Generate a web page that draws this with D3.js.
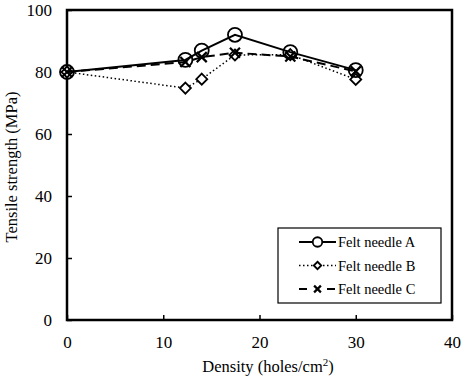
<!DOCTYPE html>
<html>
<head>
<meta charset="utf-8">
<script src="https://cdn.jsdelivr.net/npm/d3@7"></script>
<style>
  body { margin: 0; background: #fff; }
</style>
</head>
<body>
<div id="chart"></div>
<script>
// Data
const density = [0, 12.3, 14, 17.45, 23.2, 30];
const needleA = [80, 83.9, 86.9, 92, 86.4, 80.6];
const needleB = [80, 74.8, 77.7, 85.5, 85.6, 77.6];
const needleC = [80, 83.2, 84.8, 86.2, 85, 80.2];
const seriesNames = ["Felt needle A", "Felt needle B", "Felt needle C"];
const xTicks = [0, 10, 20, 30, 40];
const yTicks = [0, 20, 40, 60, 80, 100];

const FONT = "'Liberation Serif', 'Times New Roman', serif";
const W = 463, H = 378;
const margin = { top: 10, right: 11, bottom: 58, left: 67 };
const width = W - margin.left - margin.right;
const height = H - margin.top - margin.bottom;

const svg = d3.select("#chart").append("svg")
    .attr("width", W)
    .attr("height", H)
    .style("font-family", FONT);

const chart = svg.append("g")
    .attr("transform", `translate(${margin.left},${margin.top})`);

const x = d3.scaleLinear().domain([0, 40]).range([0, width]);
const y = d3.scaleLinear().domain([0, 100]).range([height, 0]);

// Axes with inward ticks
const xAxis = chart.append("g")
    .attr("transform", `translate(0,${height})`)
    .call(d3.axisBottom(x).tickValues(xTicks).tickSize(-5).tickPadding(16).tickSizeOuter(0));
const yAxis = chart.append("g")
    .call(d3.axisLeft(y).tickValues(yTicks).tickSize(-5).tickPadding(15).tickSizeOuter(0));

[xAxis, yAxis].forEach(a => {
    a.attr("font-family", null).attr("font-size", null);
    a.select(".domain").remove();
    a.selectAll("line").attr("stroke", "#000").attr("stroke-width", 1.5);
    a.selectAll("text")
        .attr("font-family", FONT)
        .style("font-size", "17px");
});

// Frame
chart.append("rect")
    .attr("width", width)
    .attr("height", height)
    .attr("fill", "none")
    .attr("stroke", "#000")
    .attr("stroke-width", 2.5);

// Axis titles
svg.append("text")
    .attr("x", 268)
    .attr("y", 372)
    .attr("text-anchor", "middle")
    .style("font-size", "16.5px")
    .html('Density  (holes/cm<tspan dy="-6" font-size="11px">2</tspan><tspan dy="6">)</tspan>');

svg.append("text")
    .attr("transform", `translate(17,${margin.top + height / 2 + 2}) rotate(-90)`)
    .attr("text-anchor", "middle")
    .style("font-size", "16.5px")
    .text("Tensile strength  (MPa)");

const styles = [
    { values: needleA, dash: null, legendDash: null, width: 2, marker: "circle" },
    { values: needleB, dash: "1.5,2.5", legendDash: "1.5,2.5", width: 1.5, marker: "diamond" },
    { values: needleC, dash: "9,5", legendDash: "8,20,8", width: 2, marker: "cross" }
];

const line = d3.line()
    .x((d, i) => x(density[i]))
    .y(d => y(d));

const drawMarker = (g, type, cx, cy, k = 1) => {
    if (type === "circle") {
        g.append("circle").attr("cx", cx).attr("cy", cy).attr("r", 7 * k)
            .attr("fill", k < 1 ? "#fff" : "none").attr("stroke", "#000").attr("stroke-width", 1.8);
    } else if (type === "diamond") {
        const s = 5.5 * k;
        g.append("path")
            .attr("d", `M${cx},${cy - s}L${cx + s},${cy}L${cx},${cy + s}L${cx - s},${cy}Z`)
            .attr("fill", "#fff").attr("stroke", "#000").attr("stroke-width", 1.8);
    } else {
        const s = 5 * k;
        g.append("path")
            .attr("d", `M${cx - s},${cy - s}L${cx + s},${cy + s}M${cx - s},${cy + s}L${cx + s},${cy - s}`)
            .attr("stroke", "#000").attr("stroke-width", 2.2);
    }
};

// Draw series (B first so circles sit on top like the original)
[1, 2, 0].forEach(k => {
    const s = styles[k];
    const g = chart.append("g");
    g.append("path")
        .datum(s.values)
        .attr("d", line)
        .attr("fill", "none")
        .attr("stroke", "#000")
        .attr("stroke-width", s.width)
        .attr("stroke-dasharray", s.dash);
    s.values.forEach((v, i) => drawMarker(g, s.marker, x(density[i]), y(v)));
});

// Legend
const legend = svg.append("g").attr("transform", "translate(278,228)");
legend.append("rect")
    .attr("width", 163)
    .attr("height", 75)
    .attr("fill", "#fff")
    .attr("stroke", "#000")
    .attr("stroke-width", 1.2);

styles.forEach((s, i) => {
    const ly = 14 + i * 23.5;
    legend.append("line")
        .attr("x1", 21).attr("x2", 58)
        .attr("y1", ly).attr("y2", ly)
        .attr("stroke", "#000")
        .attr("stroke-width", s.width)
        .attr("stroke-dasharray", s.legendDash);
    drawMarker(legend.append("g"), s.marker, 39.5, ly, 0.68);
    legend.append("text")
        .attr("x", 60)
        .attr("y", ly + 5)
        .style("font-size", "14.5px")
        .text(seriesNames[i]);
});
</script>
</body>
</html>
